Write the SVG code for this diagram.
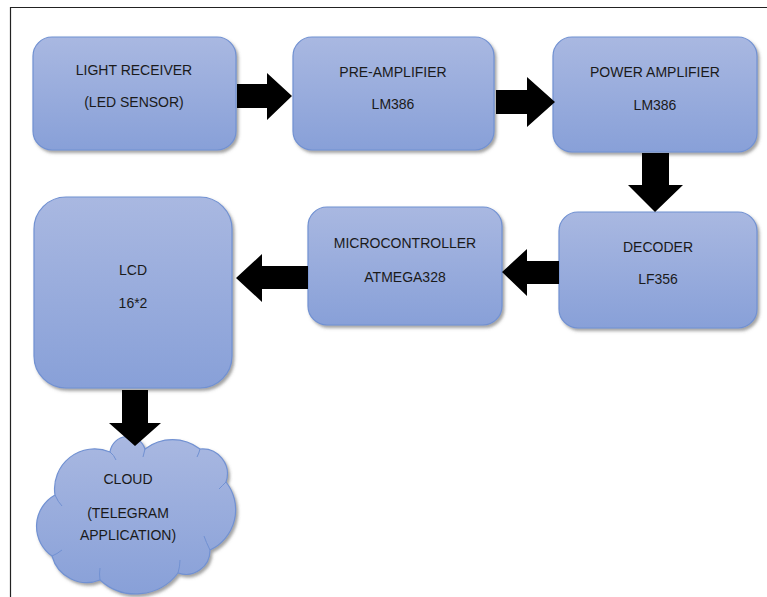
<svg xmlns="http://www.w3.org/2000/svg" width="767" height="597" viewBox="0 0 767 597">
<defs>
<linearGradient id="fill" x1="0" y1="0" x2="0" y2="1">
<stop offset="0" stop-color="#a9b8e1"/>
<stop offset="1" stop-color="#88a0d8"/>
</linearGradient>
<filter id="sh" x="-10%" y="-10%" width="125%" height="125%">
<feDropShadow dx="2" dy="2.5" stdDeviation="1.5" flood-color="#555" flood-opacity="0.55"/>
</filter>
</defs>
<style>
.box{fill:url(#fill);stroke:#7191d2;stroke-width:1.2;filter:url(#sh)}
.inner{fill:none;stroke:#7191d2;stroke-width:1}
.t{font-family:"Liberation Sans",Arial,sans-serif;font-size:14px;fill:#1a1a1a;text-anchor:middle}
.arr{fill:#000}
.frame{stroke:#222;stroke-width:1.2;fill:none}
</style>
<rect width="767" height="597" fill="#fff"/>
<path class="frame" d="M10.5 597 L10.5 7.5 L767 7.5"/>
<g id="light-receiver">
<rect class="box" x="33" y="37" width="203" height="113" rx="19"/>
<text class="t" x="134" y="75">LIGHT RECEIVER</text>
<text class="t" x="134" y="107">(LED SENSOR)</text>
</g>
<g id="pre-amplifier">
<rect class="box" x="293" y="37" width="201" height="113" rx="19"/>
<text class="t" x="393" y="77">PRE-AMPLIFIER</text>
<text class="t" x="393" y="109">LM386</text>
</g>
<g id="power-amplifier">
<rect class="box" x="553" y="37" width="204" height="115" rx="19"/>
<text class="t" x="655" y="77">POWER AMPLIFIER</text>
<text class="t" x="655" y="110">LM386</text>
</g>
<g id="decoder">
<rect class="box" x="559" y="212" width="198" height="116" rx="19"/>
<text class="t" x="658" y="252">DECODER</text>
<text class="t" x="658" y="284">LF356</text>
</g>
<g id="microcontroller">
<rect class="box" x="308" y="207" width="194" height="118" rx="19"/>
<text class="t" x="405" y="248">MICROCONTROLLER</text>
<text class="t" x="405" y="282">ATMEGA328</text>
</g>
<g id="lcd">
<rect class="box" x="34" y="197" width="198" height="191" rx="32"/>
<text class="t" x="133" y="275">LCD</text>
<text class="t" x="133" y="308">16*2</text>
</g>
<g id="cloud">
<path class="box" d="M55 495 A40 40 0 0 1 110 452 A18 18 0 0 1 145 449 A45 45 0 0 1 200 449 A25 25 0 0 1 226 482 A44.5 44.5 0 0 1 210 550 A24 24 0 0 1 178 573 A53 53 0 0 1 100 580 A36 36 0 0 1 52 556 A36 36 0 0 1 55 495 Z"/>
<path class="inner" d="M55 495 Q58 502 62 506 M110 452 Q114 455 116 460 M145 449 Q144 453 143 457 M200 449 Q199 453 197 457 M226 482 Q222 486 219 489 M210 550 Q206 542 204 536 M178 573 Q180 566 180 560 M100 580 Q99 574 100 568 M52 556 Q57 554 62 550"/>
<text class="t" x="128" y="484">CLOUD</text>
<text class="t" x="128" y="518">(TELEGRAM</text>
<text class="t" x="128" y="540">APPLICATION)</text>
</g>
<g id="connectors">
<path class="arr" d="M237 84 L267 84 L267 73 L292 96 L267 120 L267 108 L237 108 Z"/>
<path class="arr" d="M496 90 L527 90 L527 77 L555 102 L527 127 L527 114 L496 114 Z"/>
<path class="arr" d="M642 153 L669 153 L669 185 L683 185 L655 212 L628 185 L642 185 Z"/>
<path class="arr" d="M559 261 L527 261 L527 249 L502 272 L527 296 L527 284 L559 284 Z"/>
<path class="arr" d="M308 266 L262 266 L262 254 L236 278 L262 302 L262 289 L308 289 Z"/>
<path class="arr" d="M122 390 L148 390 L148 423 L161 423 L135 446 L109 423 L122 423 Z"/>
</g>
</svg>
